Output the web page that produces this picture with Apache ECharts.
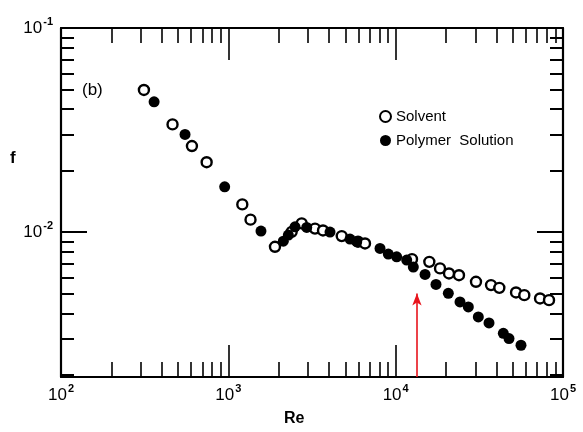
<!DOCTYPE html>
<html>
<head>
<meta charset="utf-8">
<script src="https://cdn.jsdelivr.net/npm/echarts@6/dist/echarts.min.js"></script>
<style>html,body{margin:0;padding:0;background:#fff;}#c{width:583px;height:432px;}</style>
</head>
<body>
<div id="c"></div>
<script>
// Data: [Re, f]
var solvent = [
  [313,0.0497],[464,0.0337],[606,0.0264],[742,0.0220],[1212,0.01367],[1357,0.01151],
  [1900,0.00847],[2391,0.01003],[2745,0.01103],[3296,0.01040],[3679,0.01019],[4760,0.00956],
  [5957,0.00897],[6558,0.00880],[12520,0.00737],[15890,0.00715],[18410,0.00664],[20830,0.00627],
  [23900,0.00615],[30200,0.00571],[37140,0.00550],[41640,0.00533],[52400,0.00506],[58720,0.00491],
  [72900,0.00473],[82500,0.00464]
];
var polymer = [
  [360,0.0435],[551,0.0301],[951,0.01667],[1567,0.01012],[2131,0.00903],[2283,0.00967],
  [2503,0.01062],[2941,0.01054],[4052,0.0100],[5336,0.00924],[5851,0.00897],[8062,0.00832],
  [9036,0.00780],[10140,0.00757],[11640,0.00729],[12750,0.00674],[14980,0.00620],[17420,0.00554],
  [20640,0.00501],[24240,0.00455],[27180,0.00430],[31180,0.00384],[36130,0.00359],[43990,0.00319],
  [47570,0.00301],[56100,0.00279]
];
var xMajorTicks = [100, 1000, 10000, 100000];
var xMinorTicks = [200,300,400,500,600,700,800,900,2000,3000,4000,5000,6000,7000,8000,9000,
                   20000,30000,40000,50000,60000,70000,80000,90000];
var yMajorTicks = [0.01, 0.1];
var yMinorTicks = [0.002,0.003,0.004,0.005,0.006,0.007,0.008,0.009,
                   0.02,0.03,0.04,0.05,0.06,0.07,0.08,0.09];
var arrowRe = 13400, arrowTopF = 0.0050;
var xRange = [100, 100000], yRange = [0.00195, 0.1];

var FONT = 'Liberation Sans';
function powLabel(v) {
  var e = Math.round(Math.log10(v));
  return '{a|10}{b|' + String(e) + '}';
}
var richLbl = {
  a: {fontSize: 17, fontFamily: FONT, color: '#000', lineHeight: 24},
  b: {fontSize: 11, fontFamily: FONT, fontWeight: 'bold', color: '#000', verticalAlign: 'top', lineHeight: 11, padding: [0,0,0,1]}
};
function xAxisDef(pos, major, showLine) {
  return {
    type: 'log', logBase: 10, position: pos, min: xRange[0], max: xRange[1],
    axisLine: {show: showLine, lineStyle: {color: '#000', width: 2.2}},
    axisTick: {show: true, inside: true, length: major ? 32 : 15,
      customValues: major ? xMajorTicks : xMinorTicks, lineStyle: {color: '#000', width: 1.6}},
    axisLabel: (major && pos === 'bottom') ? {show: true, customValues: xMajorTicks, margin: 6,
      formatter: powLabel, rich: richLbl} : {show: false},
    splitLine: {show: false}
  };
}
function yAxisDef(pos, major, showLine) {
  return {
    type: 'log', logBase: 10, position: pos, min: yRange[0], max: yRange[1],
    axisLine: {show: showLine, lineStyle: {color: '#000', width: 2.2}},
    axisTick: {show: true, inside: true, length: major ? 26 : 13,
      customValues: major ? yMajorTicks : yMinorTicks, lineStyle: {color: '#000', width: 2}},
    axisLabel: (major && pos === 'left') ? {show: true, customValues: yMajorTicks, margin: 8,
      formatter: powLabel, rich: richLbl} : {show: false},
    splitLine: {show: false}
  };
}

var chart = echarts.init(document.getElementById('c'), null, {renderer: 'canvas'});
chart.setOption({
  animation: false,
  backgroundColor: '#fff',
  grid: {left: 61, top: 28, right: 20, bottom: 55, containLabel: false},
  xAxis: [xAxisDef('bottom', true, true), xAxisDef('bottom', false, false),
          xAxisDef('top', true, true), xAxisDef('top', false, false)],
  yAxis: [yAxisDef('left', true, true), yAxisDef('left', false, false),
          yAxisDef('right', true, true), yAxisDef('right', false, false)],
  legend: {
    orient: 'vertical', left: 374, top: 104, itemGap: 9, itemWidth: 11, itemHeight: 11,
    textStyle: {fontSize: 15, fontFamily: FONT, color: '#000'},
    data: [
      {name: 'Solvent', icon: 'circle', itemStyle: {color: '#fff', borderColor: '#000', borderWidth: 2}},
      {name: 'Polymer  Solution', icon: 'circle', itemStyle: {color: '#000'}}
    ]
  },
  graphic: [
    {type: 'text', left: 10, top: 150, style: {text: 'f', font: 'bold 17px ' + FONT, fill: '#000'}},
    {type: 'text', left: 284, top: 411, style: {text: 'Re', font: 'bold 16px ' + FONT, fill: '#000'}},
    {type: 'text', left: 82, top: 82, style: {text: '(b)', font: '17px ' + FONT, fill: '#000'}}
  ],
  series: [
    {
      name: 'Solvent', type: 'scatter', xAxisIndex: 0, yAxisIndex: 0, data: solvent,
      symbol: 'circle', symbolSize: 10,
      itemStyle: {color: '#fff', borderColor: '#000', borderWidth: 2.4, opacity: 1},
      markLine: {
        silent: true, symbol: ['none', 'arrow'], symbolSize: [7, 12],
        label: {show: false},
        lineStyle: {color: '#e8141c', width: 1.6, type: 'solid'},
        data: [[{coord: [arrowRe, yRange[0]]}, {coord: [arrowRe, arrowTopF]}]]
      }
    },
    {
      name: 'Polymer  Solution', type: 'scatter', xAxisIndex: 0, yAxisIndex: 0, data: polymer,
      symbol: 'circle', symbolSize: 11,
      itemStyle: {color: '#000', opacity: 1}
    }
  ]
});
</script>
</body>
</html>
